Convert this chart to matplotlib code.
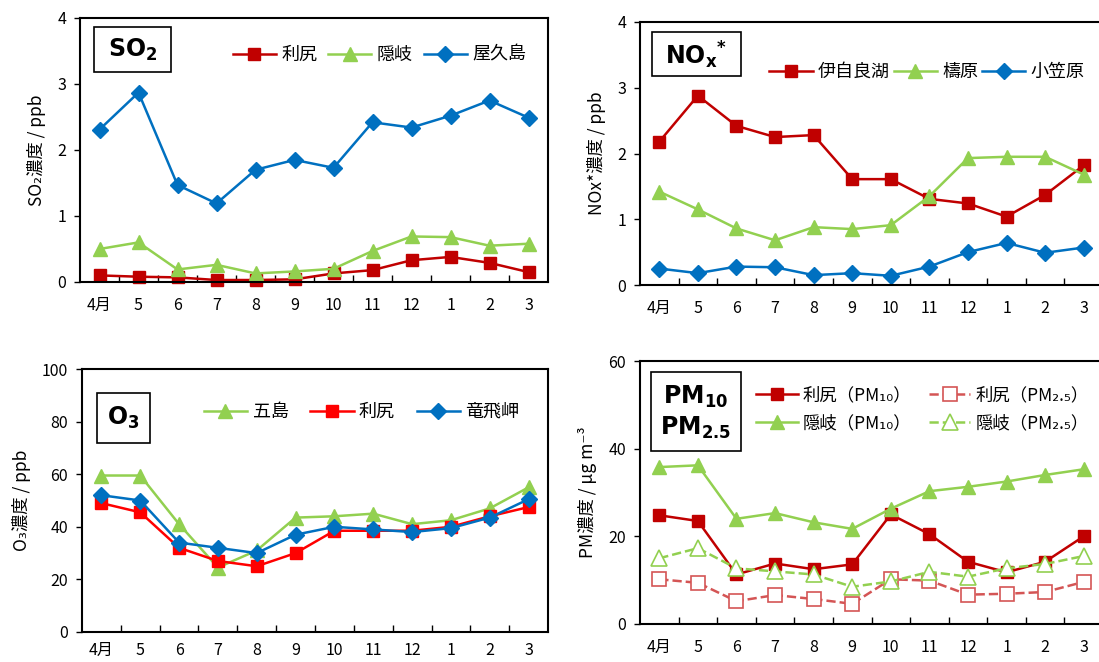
import numpy as np
import matplotlib
matplotlib.use("Agg")
import matplotlib.pyplot as plt
from matplotlib.patches import Rectangle

plt.rcParams['font.family'] = ['Noto Sans CJK JP', 'DejaVu Sans']
plt.rcParams['mathtext.fontset'] = 'custom'
plt.rcParams['mathtext.bf'] = 'DejaVu Sans:bold'
plt.rcParams['mathtext.rm'] = 'DejaVu Sans'

months = ['4月', '5', '6', '7', '8', '9', '10', '11', '12', '1', '2', '3']

# SO2 (ppb)
so2_rishiri = [0.10, 0.08, 0.07, 0.03, 0.03, 0.04, 0.13, 0.18, 0.33, 0.38, 0.29, 0.15]
so2_oki = [0.50, 0.60, 0.19, 0.26, 0.13, 0.16, 0.20, 0.47, 0.69, 0.68, 0.55, 0.58]
so2_yakushima = [2.31, 2.87, 1.47, 1.19, 1.70, 1.85, 1.73, 2.42, 2.34, 2.52, 2.75, 2.49]

# NOx* (ppb)
nox_ijira = [2.18, 2.88, 2.42, 2.25, 2.28, 1.61, 1.61, 1.31, 1.24, 1.04, 1.37, 1.82]
nox_yusuhara = [1.42, 1.15, 0.86, 0.68, 0.88, 0.85, 0.91, 1.35, 1.93, 1.95, 1.95, 1.68]
nox_ogasawara = [0.25, 0.18, 0.28, 0.27, 0.15, 0.18, 0.14, 0.28, 0.50, 0.64, 0.49, 0.57]

# O3 (ppb)
o3_goto = [59.5, 59.5, 41, 24.5, 31, 43.5, 44, 45, 41, 42.5, 47, 55]
o3_rishiri = [49, 45.5, 32, 27, 25, 30, 38.5, 38.5, 38.5, 40, 44, 47.5]
o3_tappi = [52, 50, 34, 32, 30, 37, 40, 39, 38, 39.5, 43.5, 50.5]

# PM (ug m-3)
pm10_rishiri = [24.8, 23.5, 11.3, 13.8, 12.5, 13.6, 25.0, 20.5, 14.2, 11.8, 14.2, 20.0]
pm10_oki = [35.8, 36.2, 24.0, 25.3, 23.2, 21.7, 26.3, 30.3, 31.3, 32.5, 34.0, 35.3]
pm25_rishiri = [10.2, 9.4, 5.2, 6.6, 5.7, 4.6, 10.2, 9.9, 6.7, 6.9, 7.3, 9.6]
pm25_oki = [15.0, 17.3, 12.7, 12.0, 11.3, 8.5, 9.7, 11.9, 10.8, 12.7, 13.7, 15.5]

DRED = '#C00000'
RED = '#FF0000'
GREEN = '#92D050'
BLUE = '#0070C0'
LRED = '#D45555'

W, H = 1099, 662
fig = plt.figure(figsize=(W / 100, H / 100), dpi=100)


def make_ax(left, top, right, bottom):
    return fig.add_axes([left / W, 1 - bottom / H, (right - left) / W, (bottom - top) / H])


def style(ax, ymax, ystep, ylabel, xpad=11):
    x = np.arange(len(months))
    ax.set_xlim(-0.5, len(months) - 0.5)
    ax.set_ylim(0, ymax)
    ax.set_xticks(x, months)
    ax.set_xticks(np.arange(0.5, len(months) - 1, 1), minor=True)
    ax.tick_params(axis='x', which='major', length=0, pad=xpad, labelsize=11.5)
    ax.tick_params(axis='x', which='minor', direction='in', length=5, width=1)
    ax.set_yticks(np.arange(0, ymax + ystep / 2, ystep))
    ax.tick_params(axis='y', direction='out', length=4, width=1, pad=6, labelsize=11.5)
    for s in ax.spines.values():
        s.set_linewidth(1.5)
    ax.set_ylabel(ylabel, fontsize=12.5, labelpad=8)


def box(ax, x0, y0, x1, y1):
    ax.add_patch(Rectangle((x0, y0), x1 - x0, y1 - y0, transform=ax.transAxes,
                           fill=False, edgecolor='black', lw=1.2, zorder=5))


x = np.arange(len(months))
kw = dict(lw=1.8, clip_on=False)

# ---- SO2
ax1 = make_ax(80, 18, 548, 282)
ax1.plot(x, so2_rishiri, '-s', color=DRED, ms=9, label='利尻', **kw)
ax1.plot(x, so2_oki, '-^', color=GREEN, ms=10, label='隠岐', **kw)
ax1.plot(x, so2_yakushima, '-D', color=BLUE, ms=8, label='屋久島', **kw)
style(ax1, 4, 1, 'SO₂濃度 / ppb')
box(ax1, 0.03, 0.795, 0.194, 0.966)
ax1.text(0.112, 0.88, r'$\mathbf{SO_2}$', transform=ax1.transAxes, fontsize=17,
         ha='center', va='center')
ax1.legend(loc='center', bbox_to_anchor=(0.64, 0.86), ncol=3, frameon=False,
           fontsize=13, handlelength=2.4, handletextpad=0.3, columnspacing=0.6)

# ---- NOx
ax2 = make_ax(640, 22, 1103, 285)
ax2.plot(x, nox_ijira, '-s', color=DRED, ms=9, label='伊自良湖', **kw)
ax2.plot(x, nox_yusuhara, '-^', color=GREEN, ms=10, label='檮原', **kw)
ax2.plot(x, nox_ogasawara, '-D', color=BLUE, ms=8, label='小笠原', **kw)
style(ax2, 4, 1, 'NOx*濃度 / ppb')
box(ax2, 0.026, 0.795, 0.218, 0.962)
ax2.text(0.122, 0.875, r'$\mathbf{NO_x}^\mathbf{*}$', transform=ax2.transAxes, fontsize=17,
         ha='center', va='center')
ax2.legend(loc='center', bbox_to_anchor=(0.62, 0.81), ncol=3, frameon=False,
           fontsize=13, handlelength=2.4, handletextpad=0.3, columnspacing=0.2)

# ---- O3
ax3 = make_ax(82, 369, 548, 632)
ax3.plot(x, o3_goto, '-^', color=GREEN, ms=10, label='五島', **kw)
ax3.plot(x, o3_rishiri, '-s', color=RED, ms=9, label='利尻', **kw)
ax3.plot(x, o3_tappi, '-D', color=BLUE, ms=8, label='竜飛岬', **kw)
style(ax3, 100, 20, 'O₃濃度 / ppb', xpad=7)
box(ax3, 0.032, 0.719, 0.146, 0.909)
ax3.text(0.089, 0.814, r'$\mathbf{O_3}$', transform=ax3.transAxes, fontsize=17,
         ha='center', va='center')
ax3.legend(loc='center', bbox_to_anchor=(0.6, 0.837), ncol=3, frameon=False,
           fontsize=13, handlelength=2.4, handletextpad=0.3, columnspacing=1.2)

# ---- PM
ax4 = make_ax(640, 361, 1103, 624)
ax4.plot(x, pm10_rishiri, '-s', color=DRED, ms=9, label='利尻（PM₁₀）', **kw)
ax4.plot(x, pm10_oki, '-^', color=GREEN, ms=10, label='隠岐（PM₁₀）', **kw)
ax4.plot(x, pm25_rishiri, '--s', color=LRED, ms=10, mfc='white', mew=1.2,
         label='利尻（PM₂.₅）', **kw)
ax4.plot(x, pm25_oki, '--^', color=GREEN, ms=11, mfc='white', mew=1.2,
         label='隠岐（PM₂.₅）', **kw)
style(ax4, 60, 20, 'PM濃度 / μg m⁻³')
box(ax4, 0.024, 0.658, 0.218, 0.958)
ax4.text(0.121, 0.862, r'$\mathbf{PM_{10}}$', transform=ax4.transAxes, fontsize=17,
         ha='center', va='center')
ax4.text(0.121, 0.745, r'$\mathbf{PM_{2.5}}$', transform=ax4.transAxes, fontsize=17,
         ha='center', va='center')
ax4.legend(loc='center', bbox_to_anchor=(0.61, 0.817), ncol=2, frameon=False,
           fontsize=12.5, handlelength=2.4, handletextpad=0.3, columnspacing=1.0,
           labelspacing=0.6)

fig.savefig('out.png', dpi=100)
